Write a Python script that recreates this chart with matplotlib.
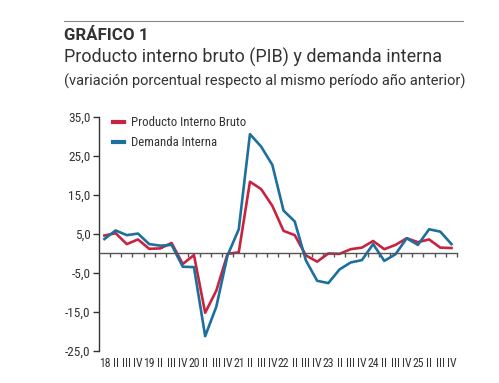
import numpy as np
import matplotlib
matplotlib.use("Agg")
import matplotlib.pyplot as plt
from matplotlib.lines import Line2D
from matplotlib import font_manager

# quarters 2018 I .. 2025 IV
years = ["18", "19", "20", "21", "22", "23", "24", "25"]
quarters = ["I", "II", "III", "IV"]
labels = [y if q == "I" else q for y in years for q in quarters]

pib = [4.6, 5.2, 2.4, 3.6, 1.2, 1.3, 2.7, -2.7,
       -0.4, -15.2, -9.5, -0.1, 0.3, 18.4, 16.5, 12.2,
       5.8, 4.7, -0.5, -2.1, 0.0, -0.1, 1.1, 1.5,
       3.2, 1.1, 2.2, 3.9, 2.9, 3.6, 1.5, 1.4]
demanda = [3.7, 5.9, 4.7, 5.1, 2.4, 2.0, 2.2, -3.4,
           -3.5, -21.2, -13.6, -0.5, 6.2, 30.6, 27.4, 22.7,
           11.0, 8.2, -1.8, -7.0, -7.6, -4.1, -2.3, -1.7,
           2.4, -1.9, -0.2, 3.9, 2.2, 6.2, 5.6, 2.4]

yticks = [-25, -15, -5, 5, 15, 25, 35]

red = "#c8233f"
blue = "#1d6f9e"
txt = "#333333"

names = {f.name for f in font_manager.fontManager.ttflist}
fam = "DejaVu Sans"
for cand in ["Roboto Condensed", "Open Sans Condensed", "Fira Sans Condensed",
             "Liberation Sans Narrow", "PT Sans Narrow", "Asap Condensed"]:
    if cand in names:
        fam = cand
        break
plt.rcParams["font.family"] = [fam, "DejaVu Sans"]
title_fam = ["Roboto", "DejaVu Sans"]

fig = plt.figure(figsize=(4.99, 3.83), dpi=100)
ax = fig.add_axes([0.198, 0.0836, 0.718, 0.611])

x = np.arange(len(labels))
ax.plot(x, pib, color=red, lw=1.9, label="Producto Interno Bruto")
ax.plot(x, demanda, color=blue, lw=1.9, label="Demanda Interna")

ax.set_xlim(-0.5, len(labels) - 0.5)
ax.set_ylim(-25, 35)

for s in ["top", "right"]:
    ax.spines[s].set_visible(False)
ax.spines["left"].set_color(txt)
ax.spines["left"].set_linewidth(1.0)
ax.spines["bottom"].set_position(("data", 0))
ax.spines["bottom"].set_color("#555555")
ax.spines["bottom"].set_linewidth(1.0)

ax.set_yticks(yticks)
ax.set_yticklabels([f"{v:.1f}".replace(".", ",") for v in yticks])
ax.tick_params(axis="y", direction="out", length=4, width=1, colors=txt,
               labelsize=9.5, pad=2)

# boundary ticks on the zero line
ax.set_xticks(np.arange(0.5, len(labels), 1))
ax.set_xticklabels([])
ax.tick_params(axis="x", direction="out", length=3, width=1, colors="#555555")

# category labels at the bottom
sec = ax.secondary_xaxis(0.0)
sec.set_xticks(x)
sec.set_xticklabels(labels)
sec.spines["bottom"].set_visible(False)
sec.tick_params(length=0, labelsize=8.5, colors=txt, pad=4)

leg = ax.legend(loc="upper left", bbox_to_anchor=(0.025, 1.025), frameon=False,
                fontsize=9.2, handlelength=0.9, handletextpad=0.5,
                labelspacing=0.55, borderaxespad=0)
for t in leg.get_texts():
    t.set_color(txt)
for h in leg.get_lines():
    h.set_linewidth(3)

fig.add_artist(Line2D([64 / 499, 463 / 499], [1 - 21 / 383, 1 - 21 / 383],
                      color="#888888", lw=0.8))
fig.text(64 / 499, 1 - 35 / 383, "GRÁFICO 1", fontsize=12.2, fontweight="bold",
         color=txt, va="center", ha="left", family=title_fam)
fig.text(64 / 499, 1 - 57 / 383, "Producto interno bruto (PIB) y demanda interna",
         fontsize=13, color=txt, va="center", ha="left", family=title_fam)
fig.text(64 / 499, 1 - 81 / 383,
         "(variación porcentual respecto al mismo período año anterior)",
         fontsize=10.5, color=txt, va="center", ha="left", family=title_fam)

fig.savefig("out.png", dpi=100)
